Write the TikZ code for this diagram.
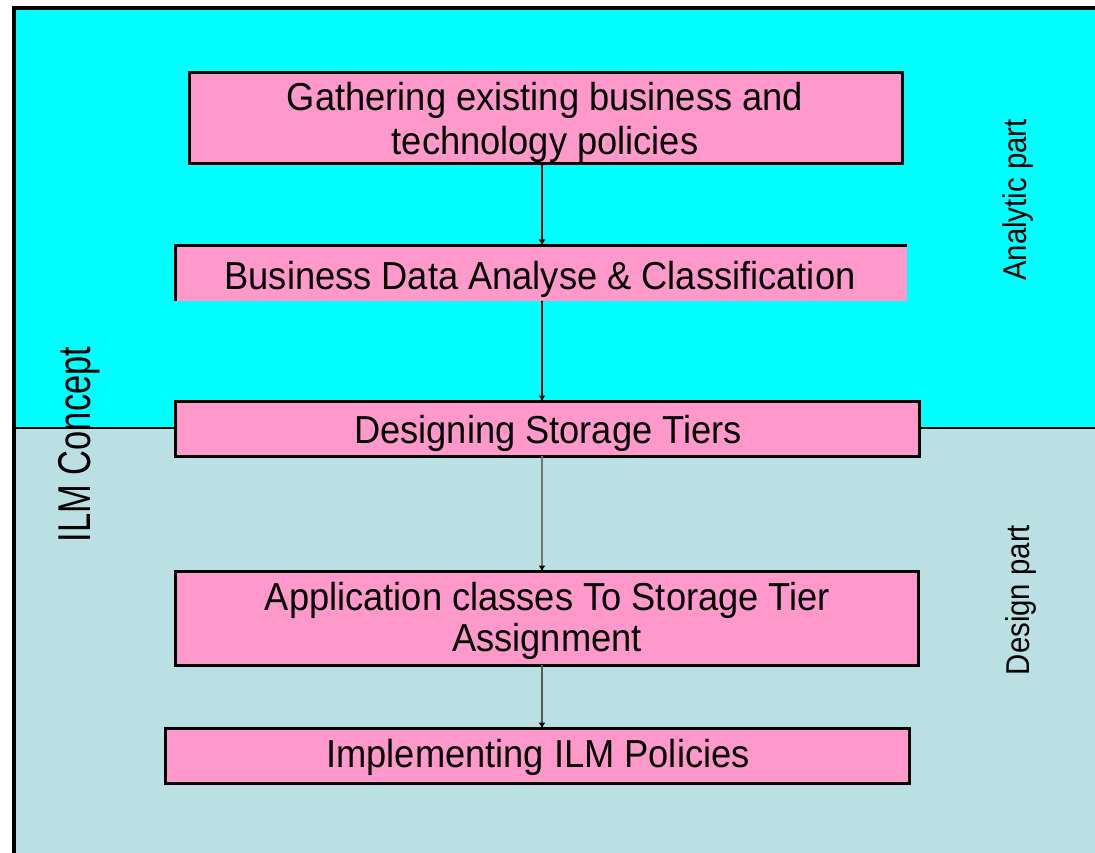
\documentclass[tikz,border=0pt]{standalone}
\usepackage{fontspec}
\setmainfont{Liberation Sans}
\newfontfamily\boxfont[FakeStretch=0.93]{Liberation Sans}
\newfontfamily\sidefont[FakeStretch=0.89]{Liberation Sans}
\newfontfamily\conceptfont[FakeStretch=0.75]{Liberation Sans}
\usetikzlibrary{arrows.meta}

\definecolor{topcyan}{RGB}{0,255,255}
\definecolor{lowteal}{RGB}{187,224,227}
\definecolor{boxpink}{RGB}{255,153,204}

\tikzset{
  panel/.style={fill=boxpink, draw=black, line width=3pt, inner sep=0pt, outer sep=0pt},
  panelfill/.style={fill=boxpink, inner sep=0pt, outer sep=0pt},
  rim/.style={draw=black, line width=3pt},
  steptext/.style={font=\boxfont\fontsize{39}{40}\selectfont, inner sep=0pt, anchor=base},
  sidelabel/.style={font=\sidefont\fontsize{33}{34}\selectfont, inner sep=0pt, anchor=base, rotate=90},
  flow/.style={line width=2pt, -{Latex[length=6pt,width=7pt,color=black]}},
}

\begin{document}
\begin{tikzpicture}[x=1pt,y=-1pt]
  \useasboundingbox (0,0) rectangle (1095,853);
  \clip (0,0) rectangle (1095,853);

  % two background bands and the frame
  \fill[topcyan] (14,8.5) rectangle (1100,428);
  \fill[lowteal] (14,428) rectangle (1100,860);
  \draw[line width=2pt] (14,428) -- (1100,428);
  \draw[line width=4pt] (14,860) -- (14,8.5) -- (1100,8.5);

  % spine of the flow
  \coordinate (spine) at (542,0);

  % step 1 (text clipped by its box)
  \node[panelfill, minimum width=713pt, minimum height=91pt] (b1) at (546,118) {};
  \begin{scope}
    \clip (b1.south west) rectangle (b1.north east);
    \node[steptext] (t1a) at (545,111) {Gathering existing business and};
    \node[steptext] (t1b) at (545,155) {technology policies};
  \end{scope}
  \draw[rim] (b1.south west) rectangle (b1.north east);

  % step 2 (border on top and left only)
  \node[panelfill, minimum width=731.5pt, minimum height=55.5pt] (b2) at (541.25,273.25) {};
  \draw[rim] (b2.south west) -- (b2.north west) -- (b2.north east);
  \node[steptext] (t2) at (540,289) {Business Data Analyse \& Classification};

  % step 3
  \node[panel, minimum width=743.5pt, minimum height=54.5pt] (b3) at (547.25,428.75) {};
  \node[steptext] (t3) at (548,443) {Designing Storage Tiers};

  % step 4
  \node[panel, minimum width=743pt, minimum height=93.5pt] (b4) at (547,618.25) {};
  \node[steptext] (t4a) at (547.5,610) {Application classes To Storage Tier};
  \node[steptext] (t4b) at (547,651) {Assignment};

  % step 5
  \node[panel, minimum width=744pt, minimum height=55pt] (b5) at (537.5,756) {};
  \node[steptext] (t5) at (538,767) {Implementing ILM Policies};

  % connectors
  \draw[flow] (b1.south -| spine) -- (b2.north -| spine);
  \draw[flow] (b2.south -| spine) -- (b3.north -| spine);
  \draw[flow, draw=black!55] (b3.south -| spine) -- (b4.north -| spine);
  \draw[flow, draw=black!65] (b4.south -| spine) -- (b5.north -| spine);

  % side labels
  \node[inner sep=0pt, anchor=base, rotate=90,
        font=\conceptfont\fontsize{46}{48}\selectfont] (concept) at (90,444.5) {ILM Concept};
  \node[sidelabel] (analytic) at (1026,200) {Analytic part};
  \node[sidelabel] (design) at (1029,600) {Design part};
\end{tikzpicture}
\end{document}
